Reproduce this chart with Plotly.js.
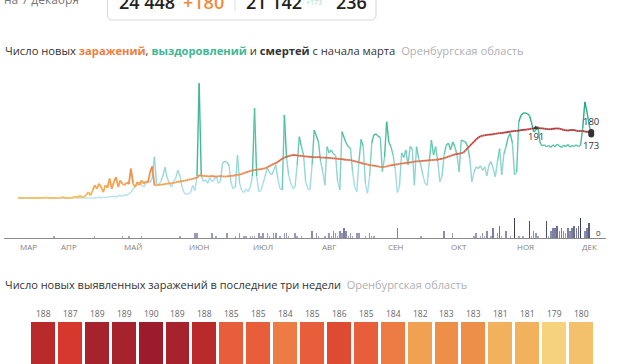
<!DOCTYPE html>
<html><head><meta charset="utf-8">
<script src="https://cdn.plot.ly/plotly-3.0.1.min.js"></script>
<style>html,body{margin:0;padding:0;background:#fff;}#chart{width:620px;height:364px;}</style>
</head><body><div id="chart"></div>
<script>
// ---------- DATA (daily, starting 13 March 2020, ending 7 December 2020) ----------
const startDate = [2020, 2, 13];
const cases = [
  0,0,0,0,0,0,0,0,0,0,
  0,0,0,2,0,0,0,0,0,0,
  0,3,0,0,0,0,2,4,1,6,
  2,3,8,16,7,20,35,25,39,30,
  16,35,28,53,25,44,57,30,48,39,
  35,42,38,80,39,30,44,35,48,39,
  45,42,71,86,35,35,36,36,37,38,
  39,40,40,41,43,44,45,46,47,48,
  50,51,52,54,55,62,61,60,60,59,
  59,60,59,58,59,60,59,58,59,60,
  60,61,62,63,64,66,68,70,72,74,
  75,76,77,78,79,80,81,84,87,90,
  93,95,99,103,107,110,112,114,116,117,
  117,116,115,115,114,113,113,112,112,111,
  111,112,111,110,110,110,109,109,108,108,
  107,106,106,105,104,104,103,102,100,99,
  97,96,94,93,91,90,89,88,87,86,
  85,84,85,86,88,89,90,91,92,93,
  94,95,96,96,97,98,99,100,100,101,
  101,102,102,103,103,104,104,105,106,107,
  109,111,113,115,117,119,120,121,122,124,
  130,136,142,148,154,160,165,168,170,171,
  172,173,173,174,175,176,177,177,178,179,
  180,181,182,183,183,184,185,186,186,187,
  188,189,190,191,191,190,190,189,188,188,
  187,189,189,190,189,188,185,185,184,185,
  186,185,184,182,183,183,181,181,179,180
];
const recovered = [
  0,0,0,0,0,0,0,0,0,0,
  0,0,0,0,0,0,0,0,0,0,
  0,0,0,0,0,0,0,0,0,0,
  0,0,0,0,0,0,0,1,2,0,
  3,1,2,4,3,5,2,6,8,4,
  10,6,12,15,25,30,38,44,35,30,
  40,48,42,55,112,40,35,45,60,84,
  55,40,30,45,55,76,60,30,14,10,
  12,15,35,20,60,313,60,45,50,40,
  55,45,50,60,40,45,95,100,98,90,
  40,25,30,117,40,20,15,25,18,30,
  60,245,60,17,20,40,60,82,70,63,
  75,90,50,25,22,226,110,63,40,25,
  30,90,167,140,117,44,25,22,90,185,
  170,153,100,72,35,140,123,131,120,117,
  44,22,181,165,150,140,136,72,30,17,
  100,160,140,40,13,60,150,172,175,168,
  165,72,110,208,153,140,117,80,15,30,
  123,110,131,90,140,135,35,140,108,90,
  63,40,35,100,158,117,140,99,44,60,
  120,144,150,131,153,140,117,72,158,155,
  153,140,108,44,70,85,80,88,75,85,
  60,90,99,80,58,100,135,63,120,140,
  165,176,150,63,70,208,225,231,232,230,
  225,205,180,185,195,150,142,145,140,143,
  138,145,140,147,142,138,144,140,146,139,
  143,141,145,140,144,190,262,235,200,173
];
const deaths = [
  0,0,0,0,0,0,0,0,0,0,
  0,0,0,0,0,0,0,1,0,0,
  0,0,0,0,0,0,0,0,0,0,
  0,0,0,0,0,0,1,0,0,0,
  0,0,0,0,0,0,0,0,0,1,
  0,0,1,0,0,0,0,0,1,0,
  0,0,0,0,0,0,0,0,0,0,
  0,0,0,0,0,0,1,0,0,0,
  0,0,0,2,2,0,0,0,0,0,
  0,2,0,1,0,0,0,0,2,0,
  0,0,1,0,2,0,1,1,0,1,
  1,1,0,2,1,2,0,2,1,0,
  2,2,0,1,0,2,2,1,0,0,
  2,1,0,1,0,0,0,0,3,0,
  2,1,0,0,1,0,2,1,3,2,
  1,3,2,4,3,1,2,1,0,2,
  2,0,0,1,0,2,1,1,0,0,
  0,0,0,0,0,0,0,0,4,0,
  0,0,0,0,0,0,0,0,0,1,
  0,0,0,0,0,0,0,0,0,0,
  3,0,0,0,2,0,0,0,0,0,
  0,0,0,0,1,2,0,1,2,1,
  3,0,1,4,0,2,5,1,0,3,
  0,1,0,8,0,1,0,1,0,0,
  7,1,3,2,1,0,0,0,7,1,
  3,4,4,5,3,4,3,2,4,3,
  4,5,4,5,8,0,3,4,6,0
];
const last21Values = [188,187,189,189,190,189,188,185,185,184,185,186,185,184,182,183,183,181,181,179,180];
const monthLabels = ['МАР','АПР','МАЙ','ИЮН','ИЮЛ','АВГ','СЕН','ОКТ','НОЯ','ДЕК'];
const headerDate = 'на 7 декабря';
const totalCases = '24 448', newCases = '+180', totalRecovered = '21 142', newRecovered = '+173', totalDeaths = '236';

// ---------- helpers ----------
const W = 620, H = 364;
const X = p => p / W, Y = p => 1 - p / H;
const PXD = 2.131;   // px per day
const PXV = 0.3667;  // px per case (main chart)
const idx = cases.map((_, i) => i);

function hex(h){return [parseInt(h.slice(1,3),16),parseInt(h.slice(3,5),16),parseInt(h.slice(5,7),16)];}
function colorAt(stops, v){
  if (v <= stops[0][0]) return 'rgb(' + hex(stops[0][1]) + ')';
  for (let k = 1; k < stops.length; k++) {
    if (v <= stops[k][0]) {
      const a = stops[k-1], b = stops[k], t = (v - a[0]) / (b[0] - a[0]);
      const ca = hex(a[1]), cb = hex(b[1]);
      return 'rgb(' + ca.map((c, j) => Math.round(c + (cb[j] - c) * t)) + ')';
    }
  }
  return 'rgb(' + hex(stops[stops.length-1][1]) + ')';
}
function gradientLine(vals, stops, width, step){
  const groups = new Map();
  for (let i = 0; i < vals.length - 1; i++) {
    const key = Math.round(((vals[i] + vals[i+1]) / 2) / step);
    if (!groups.has(key)) groups.set(key, {x: [], y: []});
    const g = groups.get(key);
    g.x.push(idx[i], idx[i+1], null); g.y.push(vals[i], vals[i+1], null);
  }
  return [...groups.entries()].sort((a,b)=>a[0]-b[0]).map(([key, g]) => ({
    type: 'scatter', mode: 'lines', x: g.x, y: g.y, connectgaps: false,
    line: {color: colorAt(stops, key * step), width: width}, hoverinfo: 'skip', showlegend: false
  }));
}

const recStops = [[0,'#b6e2f1'],[50,'#a4dbe8'],[100,'#86d3c9'],[150,'#52c2a2'],[220,'#2fae88'],[320,'#168868']];
const caseStops = [[0,'#f7bb58'],[40,'#f4a24e'],[80,'#ea8150'],[115,'#d9644a'],[150,'#c64a42'],[190,'#b2353a']];

const traces = [];
gradientLine(recovered, recStops, 1.4, 8).forEach(t => traces.push(t));
gradientLine(cases, caseStops, 1.8, 6).forEach(t => traces.push(t));

const last = cases.length - 1;
let maxI = 0; cases.forEach((v, i) => { if (v > cases[maxI]) maxI = i; });
traces.push({type:'scatter', mode:'markers', x:[idx[maxI]], y:[cases[maxI]], marker:{color:'#3a3a3a', size:5, symbol:'triangle-up'}, hoverinfo:'skip'});
traces.push({type:'scatter', mode:'markers', x:[idx[last], idx[last]], y:[cases[last], recovered[last]], marker:{color:'#333', size:6}, hoverinfo:'skip'});

traces.push({type:'bar', x: idx, y: deaths, xaxis:'x2', yaxis:'y2', width: 0.7,
  marker:{color: deaths, colorscale:[[0,'#b4b7cf'],[0.5,'#7b7fa3'],[1,'#393c58']], cmin:0, cmax:8, line:{width:0}}, hoverinfo:'skip'});

traces.push({type:'heatmap', z:[last21Values], x: last21Values.map((_, i) => i), y:[0], xaxis:'x3', yaxis:'y3',
  zmin:179, zmax:190, showscale:false, xgap:3, hoverinfo:'skip',
  colorscale:[[0,'#f6d27f'],[0.0909,'#f3c06c'],[0.1818,'#f2b15c'],[0.2727,'#f0a252'],[0.3636,'#ed8f49'],[0.4545,'#ec7b44'],
              [0.5455,'#e85e3a'],[0.6364,'#df4a33'],[0.7273,'#d6382e'],[0.8182,'#b82a2c'],[0.9091,'#a6222d'],[1,'#9d1c2b']]});

// ---------- annotations ----------
const ann = [];
const fam = 'Open Sans, sans-serif';
function txt(text, xpx, ypx, size, color, extra){
  return Object.assign({text, x: X(xpx), y: Y(ypx), xref:'paper', yref:'paper', xanchor:'left', yanchor:'middle',
    showarrow:false, font:{family:fam, size, color}}, extra || {});
}
ann.push(txt(headerDate, 2, -1, 12, '#777'));
ann.push(txt(totalCases, 117, 2.5, 18, '#222', {font:{family:fam,size:18,color:'#222',weight:600}}));
ann.push(txt(newCases, 181, 2.5, 18, '#f08a3c', {font:{family:fam,size:18,color:'#f08a3c',weight:600}}));
ann.push(txt(totalRecovered, 244, 2.5, 18, '#222', {font:{family:fam,size:18,color:'#222',weight:600}}));
ann.push(txt(newRecovered, 304, 3, 7, '#a6dcc6'));
ann.push(txt(totalDeaths, 334, 2.5, 18, '#222', {font:{family:fam,size:18,color:'#222',weight:600}}));

ann.push(txt('Число новых <b><span style="color:#f07c3a">заражений</span></b>, <b><span style="color:#3cb893">выздоровлений</span></b> и <b>смертей</b> с начала марта\u00a0\u00a0<span style="color:#b0b0b0">Оренбургская область</span>', 3, 51, 11.2, '#333'));
ann.push(txt('Число новых выявленных заражений в последние три недели\u00a0\u00a0<span style="color:#b0b0b0">Оренбургская область</span>', 3, 284, 11, '#333'));

const t0 = Date.UTC(startDate[0], startDate[1], startDate[2]);
monthLabels.forEach((m, k) => {
  let pos = (Date.UTC(2020, 2 + k, 1) - t0) / 864e5 + 5;
  if (pos < 4.7) pos = 4.7;
  ann.push({text: m, x: pos, xref:'x2', y: Y(246), yref:'paper', xanchor:'center', yanchor:'middle', showarrow:false,
    font:{family:fam, size:8, color:'#808080'}});
});

last21Values.forEach((v, i) => {
  ann.push({text: String(v), x: i, xref:'x3', y: Y(313), yref:'paper', xanchor:'center', yanchor:'middle', showarrow:false,
    font:{family:fam, size:8.5, color:'#666'}});
});

ann.push({text:String(cases[maxI]), x: idx[maxI], y: cases[maxI], xref:'x', yref:'y', showarrow:false, yshift:-9,
  font:{family:fam, size:9.5, color:'#333'}});
ann.push({text:String(cases[last]), x: idx[last], y: cases[last], xref:'x', yref:'y', showarrow:false, yshift:10,
  font:{family:fam, size:9.5, color:'#333'}});
ann.push({text:String(recovered[last]), x: idx[last], y: recovered[last], xref:'x', yref:'y', showarrow:false, yshift:-11,
  font:{family:fam, size:9.5, color:'#333'}});
ann.push({text:String(deaths[last]), x: idx[last], y: 0, xref:'x2', yref:'y2', showarrow:false, xshift:7, yshift:6,
  font:{family:fam, size:8, color:'#333'}});

// ---------- shapes ----------
const bx0 = 107.5, bx1 = 376, bTop = -12, bBot = 20, r = 5;
const boxPath = `M ${X(bx0)},${Y(bTop)} L ${X(bx0)},${Y(bBot - r)} Q ${X(bx0)},${Y(bBot)} ${X(bx0 + r)},${Y(bBot)} ` +
  `L ${X(bx1 - r)},${Y(bBot)} Q ${X(bx1)},${Y(bBot)} ${X(bx1)},${Y(bBot - r)} L ${X(bx1)},${Y(bTop)}`;
const shapes = [
  {type:'path', xref:'paper', yref:'paper', path: boxPath, line:{color:'#d6d6d6', width:1}},
  {type:'line', xref:'paper', yref:'paper', x0:X(235), x1:X(235), y0:Y(-4), y1:Y(11), line:{color:'#dddddd', width:1}},
  {type:'line', xref:'paper', yref:'paper', x0:X(4), x1:X(606), y0:Y(238.5), y1:Y(238.5), line:{color:'#8a8a8a', width:1}}
];

const xr = [-18 / PXD, (W - 18) / PXD];
const layout = {
  width: W, height: H, margin:{l:0, r:0, t:0, b:0}, paper_bgcolor:'#fff', plot_bgcolor:'rgba(0,0,0,0)',
  showlegend:false, font:{family:fam, size:10, color:'#333'}, bargap:0,
  xaxis:{domain:[0,1], range: xr, visible:false, fixedrange:true},
  yaxis:{domain:[Y(205), Y(70)], range:[-7 / PXV, 128 / PXV], visible:false, fixedrange:true},
  xaxis2:{domain:[0,1], range: xr, anchor:'y2', visible:false},
  yaxis2:{domain:[Y(238), Y(212)], range:[0, 26 / 2.45], anchor:'x2', visible:false},
  xaxis3:{domain:[0,1], range:[-43.4 / 26.9, (W - 43.4) / 26.9], anchor:'y3', visible:false},
  yaxis3:{domain:[0, Y(322)], range:[-0.5, 0.5], anchor:'x3', visible:false},
  annotations: ann, shapes: shapes
};
Plotly.newPlot('chart', traces, layout, {staticPlot:true, displayModeBar:false});
</script>
</body></html>
